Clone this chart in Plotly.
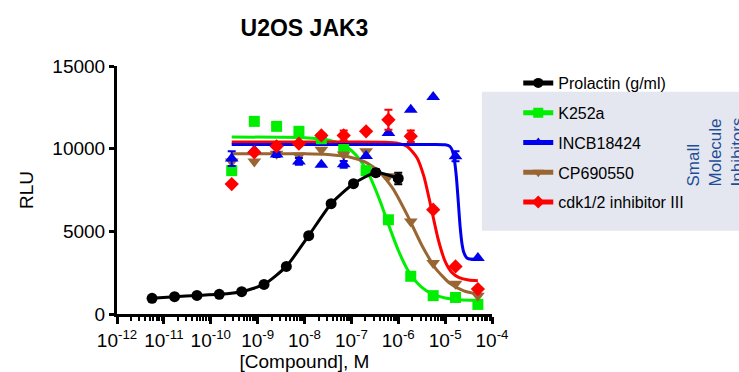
import plotly.graph_objects as go

# ---- data ----
prl_x = [5.6e-12, 1.69e-11, 5.08e-11, 1.52e-10, 4.57e-10, 1.37e-9, 4.1e-9, 1.23e-8, 3.7e-8, 1.11e-7, 3.33e-7, 1.0e-6]
prl_y = [950, 1050, 1120, 1190, 1350, 1790, 2880, 4740, 6670, 7880, 8550, 8200]
prl_err = [0, 0, 0, 0, 0, 0, 0, 0, 0, 0, 200, 350]

inh_x = [2.8e-10, 8.5e-10, 2.54e-9, 7.6e-9, 2.29e-8, 6.86e-8, 2.06e-7, 6.17e-7, 1.85e-6, 5.56e-6, 1.667e-5, 5.0e-5]

k252a_y = [8670, 11650, 11350, 11050, 10600, 9950, 8670, 5700, 2280, 1110, 1000, 580]
incb_y = [9400, 9900, 9640, 9230, 9030, 9050, 9560, 10950, 12360, 13120, 9540, 3390]
incb_err = [450, 0, 150, 200, 0, 200, 0, 0, 0, 0, 300, 0]
cp_y = [9230, 9230, 9700, 9580, 9940, 9640, 9840, 8330, 5600, 3080, 1830, 1110]
cdk_y = [7860, 9780, 10140, 10300, 10800, 10800, 11050, 11750, 10750, 6310, 2880, 1510]
cdk_err = [0, 0, 0, 0, 0, 300, 0, 600, 350, 0, 0, 0]

# fitted curves
k252a_fit_x = [2.8e-10, 1e-8, 3.16e-8, 6.3e-8, 1e-7, 1.58e-7, 2.51e-7, 3.98e-7, 6.3e-7, 1e-6, 1.58e-6, 2.51e-6, 3.98e-6, 6.3e-6, 1e-5, 2e-5, 5e-5]
k252a_fit_y = [10700, 10665, 10527, 10257, 9890, 9262, 8277, 6923, 5351, 3857, 2680, 1884, 1400, 1125, 973, 866, 820]

cp_fit_x = [2.8e-10, 1e-8, 3.16e-8, 1e-7, 2e-7, 3.98e-7, 7.9e-7, 1.58e-6, 3.16e-6, 6.3e-6, 1.26e-5, 2.51e-5, 5e-5]
cp_fit_y = [9700, 9685, 9640, 9467, 9184, 8601, 7536, 5946, 4178, 2747, 1860, 1397, 1193]

cdk_fit_x = [2.8e-10, 1e-7, 5e-7, 1e-6, 1.58e-6, 2.51e-6, 3.55e-6, 5e-6, 7.08e-6, 1e-5, 1.41e-5, 2e-5, 3.16e-5, 5e-5]
cdk_fit_y = [10400, 10400, 10388, 10320, 10116, 9453, 8297, 6470, 4537, 3186, 2494, 2195, 2055, 2018]

incb_fit_x = [2.8e-10, 3.16e-6, 1e-5, 1.26e-5, 1.41e-5, 1.58e-5, 1.74e-5, 1.91e-5, 2.09e-5, 2.29e-5, 2.51e-5, 2.82e-5, 3.16e-5, 5e-5]
incb_fit_y = [10250, 10250, 10239, 10142, 9919, 9301, 8271, 6775, 5279, 4251, 3713, 3436, 3343, 3300]

x_tick_vals = [1e-12, 1e-11, 1e-10, 1e-9, 1e-8, 1e-7, 1e-6, 1e-5, 1e-4]
x_tick_text = ["10<sup>-12</sup>", "10<sup>-11</sup>", "10<sup>-10</sup>", "10<sup>-9</sup>",
               "10<sup>-8</sup>", "10<sup>-7</sup>", "10<sup>-6</sup>", "10<sup>-5</sup>", "10<sup>-4</sup>"]
x_minor_vals = [m * d for d in x_tick_vals[:-1] for m in range(2, 10)]
y_tick_vals = [0, 5000, 10000, 15000]
y_tick_text = ["0", "5000", "10000", "15000"]

names = ["Prolactin (g/ml)", "K252a", "INCB18424", "CP690550", "cdk1/2 inhibitor III"]
colors = ["#000000", "#00ee00", "#0000ee", "#996633", "#ff0000"]
symbols = ["circle", "square", "triangle-up", "triangle-down", "diamond"]

fig = go.Figure()

def err(arr, c):
    return dict(type="data", array=arr, visible=True, color=c, thickness=2, width=4)

# fitted lines
fits = [(k252a_fit_x, k252a_fit_y, colors[1]), (cp_fit_x, cp_fit_y, colors[3]),
        (cdk_fit_x, cdk_fit_y, colors[4]), (incb_fit_x, incb_fit_y, colors[2])]
for fx, fy, c in fits:
    fig.add_trace(go.Scatter(x=fx, y=fy, mode="lines", line=dict(color=c, width=3, shape="spline", smoothing=0.6),
                             showlegend=False, hoverinfo="skip"))

# data points
fig.add_trace(go.Scatter(x=inh_x, y=k252a_y, mode="markers", marker=dict(symbol=symbols[1], size=11, color=colors[1]), showlegend=False))
fig.add_trace(go.Scatter(x=inh_x, y=cp_y, mode="markers", marker=dict(symbol=symbols[3], size=12, color=colors[3]), showlegend=False))
fig.add_trace(go.Scatter(x=inh_x, y=incb_y, mode="markers", error_y=err(incb_err, colors[2]),
                         marker=dict(symbol=symbols[2], size=12, color=colors[2]), showlegend=False))
fig.add_trace(go.Scatter(x=inh_x, y=cdk_y, mode="markers", error_y=err(cdk_err, colors[4]),
                         marker=dict(symbol=symbols[4], size=11, color=colors[4]), showlegend=False))
fig.add_trace(go.Scatter(x=prl_x, y=prl_y, mode="lines+markers", error_y=err(prl_err, colors[0]),
                         line=dict(color=colors[0], width=3, shape="spline", smoothing=0.6),
                         marker=dict(symbol=symbols[0], size=11, color=colors[0]), showlegend=False))

# legend entries
for i, (n, c, s) in enumerate(zip(names, colors, symbols)):
    fig.add_trace(go.Scatter(x=[None], y=[None], mode="lines+markers", name=n, legendgroup=str(i),
                             line=dict(color=c, width=5), marker=dict(symbol=s, size=10, color=c)))

fig.add_shape(type="rect", xref="paper", yref="paper", x0=0.973, x1=1.7, y0=0.336, y1=0.896,
              fillcolor="#e4e7f0", line=dict(width=0), layer="below")

fig.add_annotation(text="Small<br>Molecule<br>Inhibitors", xref="paper", yref="paper",
                   x=(748 - 117) / 375, y=(314 - 152) / 248, textangle=-90, align="left",
                   showarrow=False, font=dict(family="Liberation Sans, Arial", size=17, color="#1f4e96"))

fig.update_layout(
    width=739, height=372,
    margin=dict(l=117, r=247, t=66, b=58),
    paper_bgcolor="white", plot_bgcolor="white",
    font=dict(family="Liberation Sans, Arial", color="black"),
    title=dict(text="<b>U2OS JAK3</b>", x=0.5, xref="paper", xanchor="center", y=1 - 28 / 372, yref="container",
               yanchor="middle", font=dict(size=23, color="black")),
    legend=dict(x=1.07, y=1.0, xanchor="left", yanchor="top", bgcolor="rgba(0,0,0,0)",
                font=dict(size=16), traceorder="grouped", tracegroupgap=6, itemwidth=30),
    xaxis=dict(type="log", range=[-12, -4], tickvals=x_tick_vals, ticktext=x_tick_text, automargin=False,
               showline=True, linewidth=3, linecolor="black", showgrid=False, zeroline=False,
               ticks="outside", ticklen=7, tickwidth=3, tickcolor="black", tickfont=dict(size=19),
               minor=dict(tickmode="array", tickvals=x_minor_vals, ticks="outside", ticklen=4, tickwidth=2,
                          tickcolor="black", showgrid=False),
               title=dict(text="[Compound], M", font=dict(size=19), standoff=10)),
    yaxis=dict(range=[0, 15000], tickvals=y_tick_vals, ticktext=y_tick_text, automargin=False,
               showline=True, linewidth=3, linecolor="black", showgrid=False, zeroline=False,
               ticks="outside", ticklen=5, tickwidth=3, tickcolor="black", tickfont=dict(size=19),
               title=dict(text="RLU", font=dict(size=19), standoff=14)),
)

fig.write_html("out.html")
